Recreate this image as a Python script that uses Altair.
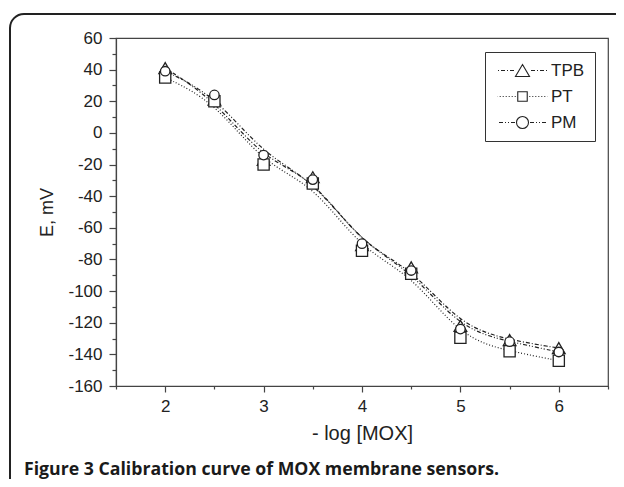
import altair as alt
import pandas as pd

# ---- data ----
x_vals = [2, 2.5, 3, 3.5, 4, 4.5, 5, 5.5, 6]
tpb = [41, 21, -17, -28, -71, -85, -122, -131, -136]
pt = [35, 20, -20, -32, -74.5, -89, -129.5, -138, -144]
pm = [39, 24, -14, -29.5, -70, -87, -124, -132, -138.5]
series = ["TPB", "PT", "PM"]
x_ticks = [1.5, 2, 2.5, 3, 3.5, 4, 4.5, 5, 5.5, 6, 6.5]
y_ticks = list(range(-160, 61, 10))
caption = ["Figure 3 Calibration curve of MOX membrane sensors."]

rows = []
for name, vals in zip(series, [tpb, pt, pm]):
    for xv, yv in zip(x_vals, vals):
        rows.append({"x": xv, "E": yv, "series": name})
df = pd.DataFrame(rows)

INK = "#222222"
AX = "#444444"
FONT = "Liberation Sans"

dash_patterns = [[4, 2, 1, 2], [1, 2], [4, 2, 1, 2, 1, 2]]
marker_shapes = ["triangle-up", "square", "circle"]
marker_sizes = [160, 90, 132]

# ---- legend symbols: line pieces + marker as one custom path ----
R = 6.0  # px per path unit (symbolSize 144)
HALF = 25.0


def half_dashes(pattern, gap):
    segs = []
    pos, i = gap, 0
    while pos < HALF:
        ln = pattern[i % len(pattern)]
        end = min(pos + ln, HALF)
        if i % 2 == 0:
            segs.append((pos, end))
        pos = end
        i += 1
    return segs


def legend_path(pattern, marker, gap):
    out = []
    for a, b in half_dashes(pattern, gap):
        out.append(f"M{a / R:.3f},0L{b / R:.3f},0")
        out.append(f"M{-a / R:.3f},0L{-b / R:.3f},0")
    return marker + "".join(out)


tri = "M0,-1L1.17,1L-1.17,1Z"
sq = "M-0.79,-0.79L0.79,-0.79L0.79,0.79L-0.79,0.79Z"
circ = "M-1,0A1,1,0,1,0,1,0A1,1,0,1,0,-1,0Z"
legend_paths = [
    legend_path(dash_patterns[0], tri, 8.5),
    legend_path(dash_patterns[1], sq, 6.8),
    legend_path(dash_patterns[2], circ, 7.5),
]

xscale = alt.Scale(domain=[1.5, 6.5], nice=False, zero=False)
yscale = alt.Scale(domain=[-160, 60], nice=False, zero=False)

x_axis = alt.Axis(
    values=x_ticks,
    labelExpr="datum.value % 1 === 0 ? '' + datum.value : ''",
    tickSize={"condition": {"test": "datum.value % 1 === 0", "value": 6}, "value": 3},
    labelOverlap=False,
    labelFlush=False,
    labelPadding=6,
    titlePadding=9,
    titleFontSize=20,
    title="- log [MOX]",
)
y_axis = alt.Axis(
    values=y_ticks,
    labelExpr="datum.value % 20 === 0 ? '' + datum.value : ''",
    tickSize={"condition": {"test": "datum.value % 20 === 0", "value": 7}, "value": 4},
    labelOverlap=False,
    labelFlush=False,
    labelPadding=7,
    titlePadding=11,
    title="E, mV",
)

X = alt.X("x:Q", scale=xscale, axis=x_axis)
Y = alt.Y("E:Q", scale=yscale, axis=y_axis)

lines = alt.Chart(df).mark_line(
    interpolate="basis", color=INK, strokeWidth=1.2
).encode(
    x=X,
    y=Y,
    strokeDash=alt.StrokeDash(
        "series:N", scale=alt.Scale(domain=series, range=dash_patterns), legend=None
    ),
)

points = alt.Chart(df).mark_point(
    filled=False, fill="white", stroke=INK, strokeWidth=1.3, opacity=1
).encode(
    x=X,
    y=Y,
    shape=alt.Shape(
        "series:N", scale=alt.Scale(domain=series, range=marker_shapes), legend=None
    ),
    size=alt.Size(
        "series:N", scale=alt.Scale(domain=series, range=marker_sizes), legend=None
    ),
)

legend_layer = alt.Chart(df).mark_point(
    filled=False, stroke=INK, strokeWidth=1.1, size=144, opacity=0
).encode(
    x=X,
    y=Y,
    shape=alt.Shape(
        "series:N",
        scale=alt.Scale(domain=series, range=legend_paths),
        legend=alt.Legend(
            title=None,
            orient="none",
            legendX=369,
            legendY=14,
            padding=10,
            strokeColor="#333333",
            fillColor="white",
            symbolSize=144,
            symbolOffset=19,
            labelOffset=20,
            rowPadding=8,
            labelFont=FONT,
            labelFontSize=17,
            labelColor=INK,
            symbolStrokeColor=INK,
            symbolStrokeWidth=1.1,
            symbolFillColor="white",
            symbolOpacity=1,
        ),
    ),
)

frame = alt.Chart(pd.DataFrame({"k": [0]})).mark_rect(
    filled=False, stroke=INK, strokeWidth=2, cornerRadius=14
).encode(
    x=alt.value(-106), x2=alt.value(640), y=alt.value(-24), y2=alt.value(640)
)

cap = alt.Chart(pd.DataFrame({"t": caption})).mark_text(
    align="left",
    baseline="alphabetic",
    font="Open Sans",
    fontSize=17.7,
    fontWeight="bold",
    color="#1a1a1a",
).encode(text="t:N", x=alt.value(-92), y=alt.value(437))

chart = (
    alt.layer(frame, lines, points, legend_layer, cap)
    .resolve_scale(shape="independent")
    .properties(
        width=492,
        height=348,
        autosize=alt.AutoSizeParams(type="none"),
        padding={"left": 108, "top": 30, "right": 8, "bottom": 93},
    )
    .configure_view(stroke=AX, strokeWidth=1.2)
    .configure_axis(
        domainColor=AX,
        domainWidth=1.2,
        tickColor=AX,
        tickWidth=1.2,
        grid=False,
        labelFont=FONT,
        labelFontSize=17,
        labelColor=INK,
        titleFont=FONT,
        titleFontSize=18,
        titleFontWeight="normal",
        titleColor=INK,
    )
)

chart.save("out.html", embed_options={"renderer": "svg", "actions": False})
